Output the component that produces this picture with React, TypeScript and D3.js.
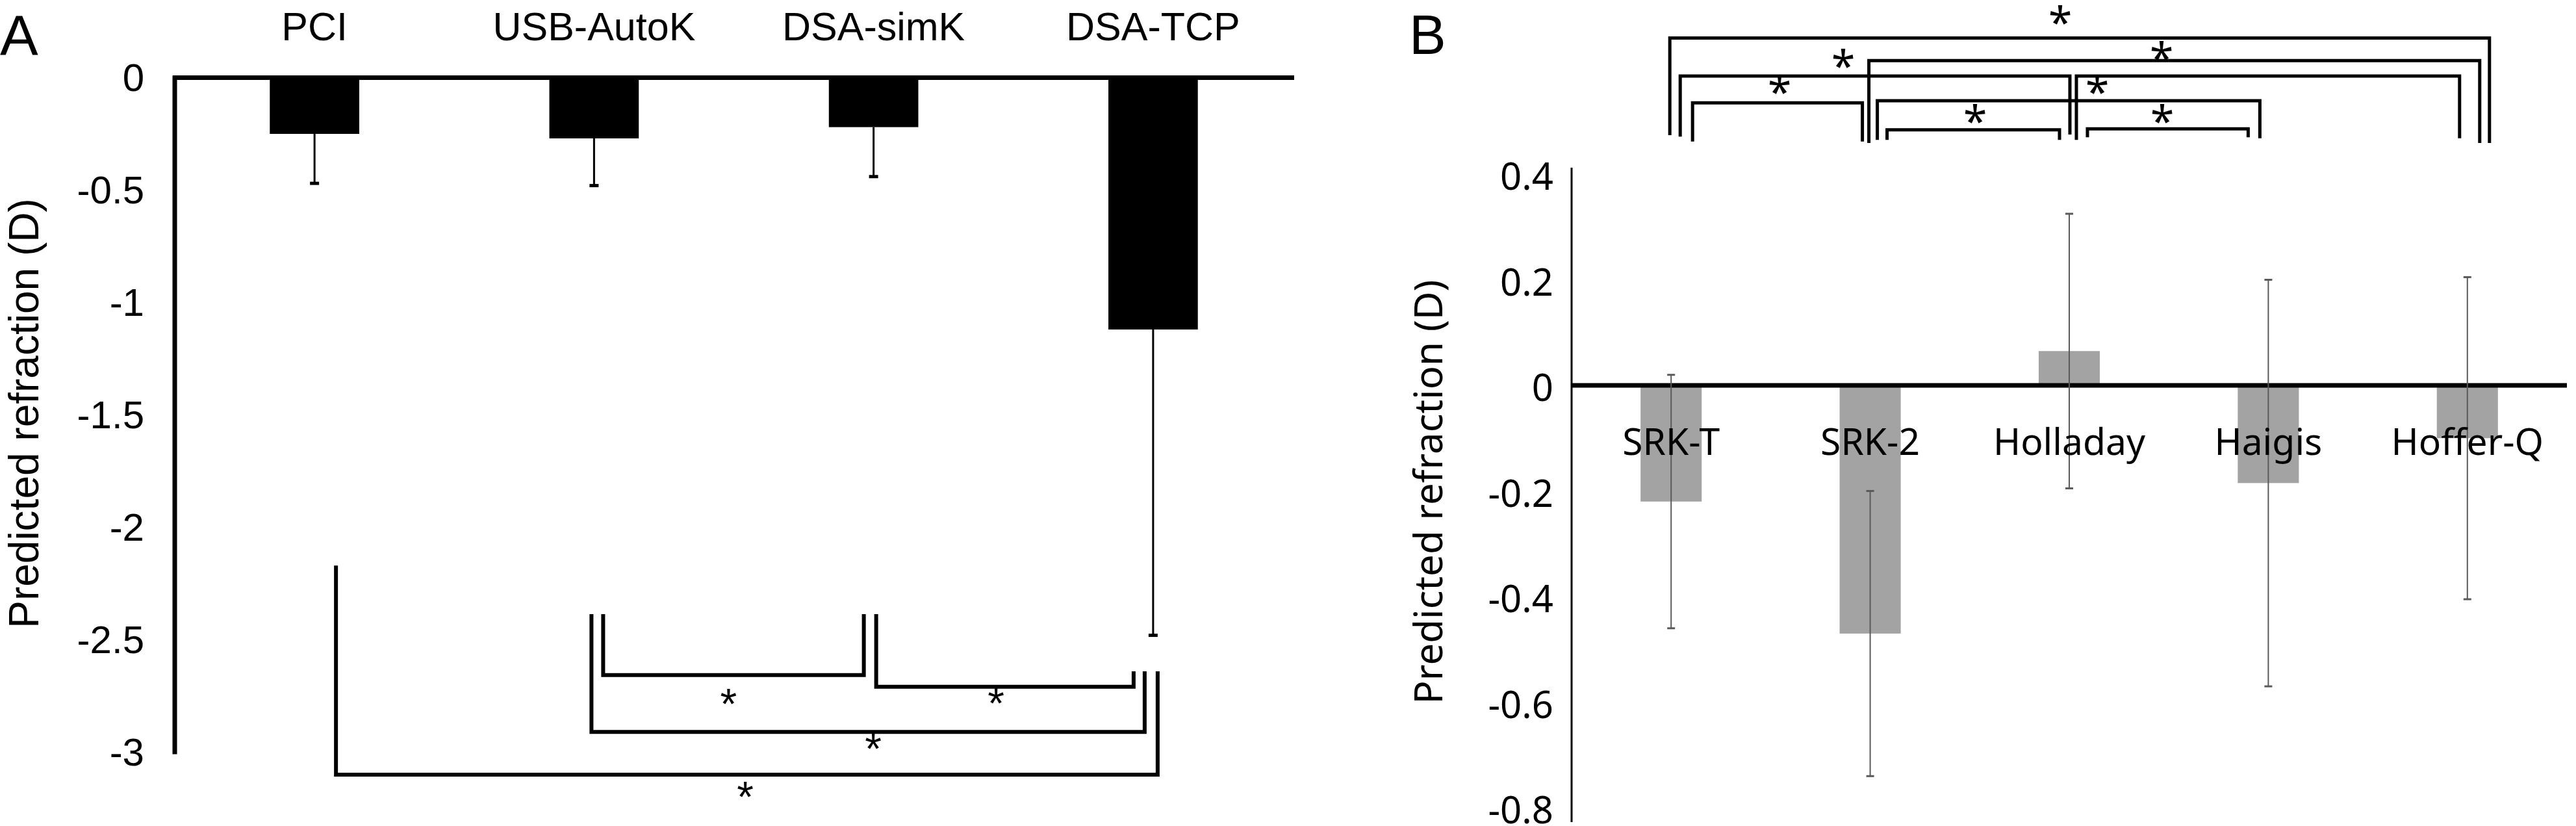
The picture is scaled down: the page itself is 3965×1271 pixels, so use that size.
import React from "react";
import * as d3 from "d3";

// ---------- Panel A data ----------
const catsA = ["PCI", "USB-AutoK", "DSA-simK", "DSA-TCP"];
const meanA = [-0.25, -0.27, -0.22, -1.12];
const sdA = [0.22, 0.21, 0.22, 1.36];
const ticksA = [0, -0.5, -1, -1.5, -2, -2.5, -3];
// significance brackets (values in D)
const sigA = [
  { a: 0, b: 3, level: -3.1, endA: -2.17, endB: -2.64 },
  { a: 1, b: 3, level: -2.91, endA: -2.386, endB: -2.64 },
  { a: 1, b: 2, level: -2.657, endA: -2.386, endB: -2.386 },
  { a: 2, b: 3, level: -2.709, endA: -2.386, endB: -2.64 },
];
const starsA = [
  { idx: 1.541, v: -3.183 },
  { idx: 1.999, v: -2.97 },
  { idx: 1.481, v: -2.77 },
  { idx: 2.438, v: -2.767 },
];

// ---------- Panel B data ----------
const catsB = ["SRK-T", "SRK-2", "Holladay", "Haigis", "Hoffer-Q"];
const meanB = [-0.22, -0.47, 0.065, -0.185, -0.1];
const sdB = [0.24, 0.27, 0.26, 0.385, 0.305];
const ticksB = [0.4, 0.2, 0, -0.2, -0.4, -0.6, -0.8];
const sigB = [
  { a: 0, b: 4, level: 0.658, endA: 0.474, endB: 0.459 },
  { a: 1, b: 4, level: 0.615, endA: 0.459, endB: 0.459 },
  { a: 0, b: 2, level: 0.586, endA: 0.471, endB: 0.475 },
  { a: 2, b: 4, level: 0.586, endA: 0.465, endB: 0.468 },
  { a: 0, b: 1, level: 0.535, endA: 0.462, endB: 0.462 },
  { a: 1, b: 3, level: 0.539, endA: 0.465, endB: 0.468 },
  { a: 1, b: 2, level: 0.484, endA: 0.465, endB: 0.465 },
  { a: 2, b: 3, level: 0.486, endA: 0.47, endB: 0.47 },
];
const starsB = [
  { idx: 1.955, v: 0.699 },
  { idx: 2.464, v: 0.631 },
  { idx: 0.865, v: 0.617 },
  { idx: 2.141, v: 0.567 },
  { idx: 0.545, v: 0.567 },
  { idx: 1.527, v: 0.512 },
  { idx: 2.467, v: 0.512 },
];

// layout offsets (px) of bracket ends relative to category centres
const offA = [[33, 7], [-4, -13], [14, -15], [4, -30]];
const offB = [[-2, 34], [-2, 19], [14, 1], [11, -12], [33, -12], [11, -13], [26, -15], [28, -31]];

const W = 3965;
const H = 1271;
const FA = "'Liberation Sans', Arial, sans-serif";
const FB = "'Noto Sans', 'Open Sans', sans-serif";

export default function App() {
  // Panel A scales
  const xA = d3.scaleBand<string>().domain(catsA).range([269, 1990]).paddingInner(0.68).paddingOuter(0.34);
  const yA = d3.scaleLinear().domain([0, -3]).range([119.5, 1157.5]);
  const cA = (i: number) => (xA(catsA[i]) as number) + xA.bandwidth() / 2;
  const idxA = d3.scaleLinear().domain([0, 3]).range([cA(0), cA(3)]);

  // Panel B scales
  const xB = d3.scaleBand<string>().domain(catsB).range([2419, 3951]).paddingInner(0.693).paddingOuter(0.3465);
  const yB = d3.scaleLinear().domain([0.4, -0.8]).range([268, 1243]);
  const cB = (i: number) => (xB(catsB[i]) as number) + xB.bandwidth() / 2;
  const idxB = d3.scaleLinear().domain([0, 4]).range([cB(0), cB(4)]);

  const starFsA = 66;
  const starFsB = 66;

  return (
    <svg
      width={W}
      height={H}
      viewBox={`0 0 ${W} ${H}`}
      style={{ position: "absolute", left: 0, top: 0, background: "#fff" }}
    >
      <rect x={0} y={0} width={W} height={H} fill="#fff" />

      {/* ================= Panel A ================= */}
      <text x={0} y={85} fontFamily={FA} fontSize={88} fill="#000">A</text>

      {catsA.map((c, i) => (
        <text key={c} x={cA(i)} y={62} textAnchor="middle" fontFamily={FA} fontSize={61} fill="#000">
          {c}
        </text>
      ))}

      {ticksA.map((t) => (
        <text key={t} x={222} y={yA(t) + 20} textAnchor="end" fontFamily={FA} fontSize={60} fill="#000">
          {String(t)}
        </text>
      ))}

      <text
        transform={`translate(59, 636) rotate(-90)`}
        textAnchor="middle"
        fontFamily={FA}
        fontSize={64}
        fill="#000"
      >
        Predicted refraction (D)
      </text>

      {/* bars */}
      {catsA.map((c, i) => (
        <rect
          key={c}
          x={xA(c)}
          y={yA(0)}
          width={xA.bandwidth()}
          height={yA(meanA[i]) - yA(0)}
          fill="#000"
        />
      ))}
      {/* error bars */}
      {catsA.map((c, i) => (
        <g key={c}>
          <line x1={cA(i)} x2={cA(i)} y1={yA(meanA[i])} y2={yA(meanA[i] - sdA[i])} stroke="#000" strokeWidth={3} />
          <line x1={cA(i) - 7} x2={cA(i) + 7} y1={yA(meanA[i] - sdA[i])} y2={yA(meanA[i] - sdA[i])} stroke="#000" strokeWidth={5} />
        </g>
      ))}
      {/* axes */}
      <line x1={269} x2={269} y1={yA(0) - 3} y2={yA(-3) + 3} stroke="#000" strokeWidth={7} />
      <line x1={266} x2={1992} y1={yA(0)} y2={yA(0)} stroke="#000" strokeWidth={7} />

      {/* significance brackets A */}
      {sigA.map((s, k) => {
        const xa = cA(s.a) + offA[k][0];
        const xb = cA(s.b) + offA[k][1];
        return (
          <path
            key={k}
            d={`M${xa},${yA(s.endA)}V${yA(s.level)}H${xb}V${yA(s.endB)}`}
            fill="none"
            stroke="#000"
            strokeWidth={6}
          />
        );
      })}
      {starsA.map((s, k) => (
        <text key={k} x={idxA(s.idx)} y={yA(s.v) + starFsA * 0.42} textAnchor="middle" fontFamily={FA} fontSize={starFsA} fill="#000">
          *
        </text>
      ))}

      {/* ================= Panel B ================= */}
      <text x={2169} y={83} fontFamily={FA} fontSize={85} fill="#000">B</text>

      {ticksB.map((t) => (
        <text key={t} x={2391} y={yB(t) + 24} textAnchor="end" fontFamily={FB} fontSize={58} fill="#000">
          {String(t)}
        </text>
      ))}

      <text
        transform={`translate(2220, 757) rotate(-90)`}
        textAnchor="middle"
        fontFamily={FB}
        fontSize={60}
        fill="#000"
      >
        Predicted refraction (D)
      </text>

      {/* bars */}
      {catsB.map((c, i) => (
        <rect
          key={c}
          x={xB(c)}
          y={Math.min(yB(0), yB(meanB[i]))}
          width={xB.bandwidth()}
          height={Math.abs(yB(meanB[i]) - yB(0))}
          fill="#a3a3a3"
        />
      ))}
      {/* axes */}
      <line x1={2419} x2={2419} y1={258} y2={1265} stroke="#000" strokeWidth={3} />
      <line x1={2418} x2={3951} y1={yB(0)} y2={yB(0)} stroke="#000" strokeWidth={7} />

      {/* error bars */}
      {catsB.map((c, i) => {
        const top = yB(meanB[i] + sdB[i]);
        const bot = yB(meanB[i] - sdB[i]);
        return (
          <g key={c}>
            <line x1={cB(i)} x2={cB(i)} y1={top} y2={bot} stroke="#5a5a5a" strokeWidth={2} />
            <line x1={cB(i) - 6} x2={cB(i) + 6} y1={top} y2={top} stroke="#5a5a5a" strokeWidth={3} />
            <line x1={cB(i) - 6} x2={cB(i) + 6} y1={bot} y2={bot} stroke="#5a5a5a" strokeWidth={3} />
          </g>
        );
      })}

      {catsB.map((c, i) => (
        <text key={c} x={cB(i)} y={700} textAnchor="middle" fontFamily={FB} fontSize={57} fill="#000">
          {c}
        </text>
      ))}

      {/* significance brackets B */}
      {sigB.map((s, k) => {
        const xa = cB(s.a) + offB[k][0];
        const xb = cB(s.b) + offB[k][1];
        return (
          <path
            key={k}
            d={`M${xa},${yB(s.endA)}V${yB(s.level)}H${xb}V${yB(s.endB)}`}
            fill="none"
            stroke="#000"
            strokeWidth={5}
          />
        );
      })}
      {starsB.map((s, k) => (
        <text key={k} x={idxB(s.idx)} y={yB(s.v) + starFsB * 0.5} textAnchor="middle" fontFamily={FB} fontSize={starFsB} fill="#000">
          *
        </text>
      ))}
    </svg>
  );
}
